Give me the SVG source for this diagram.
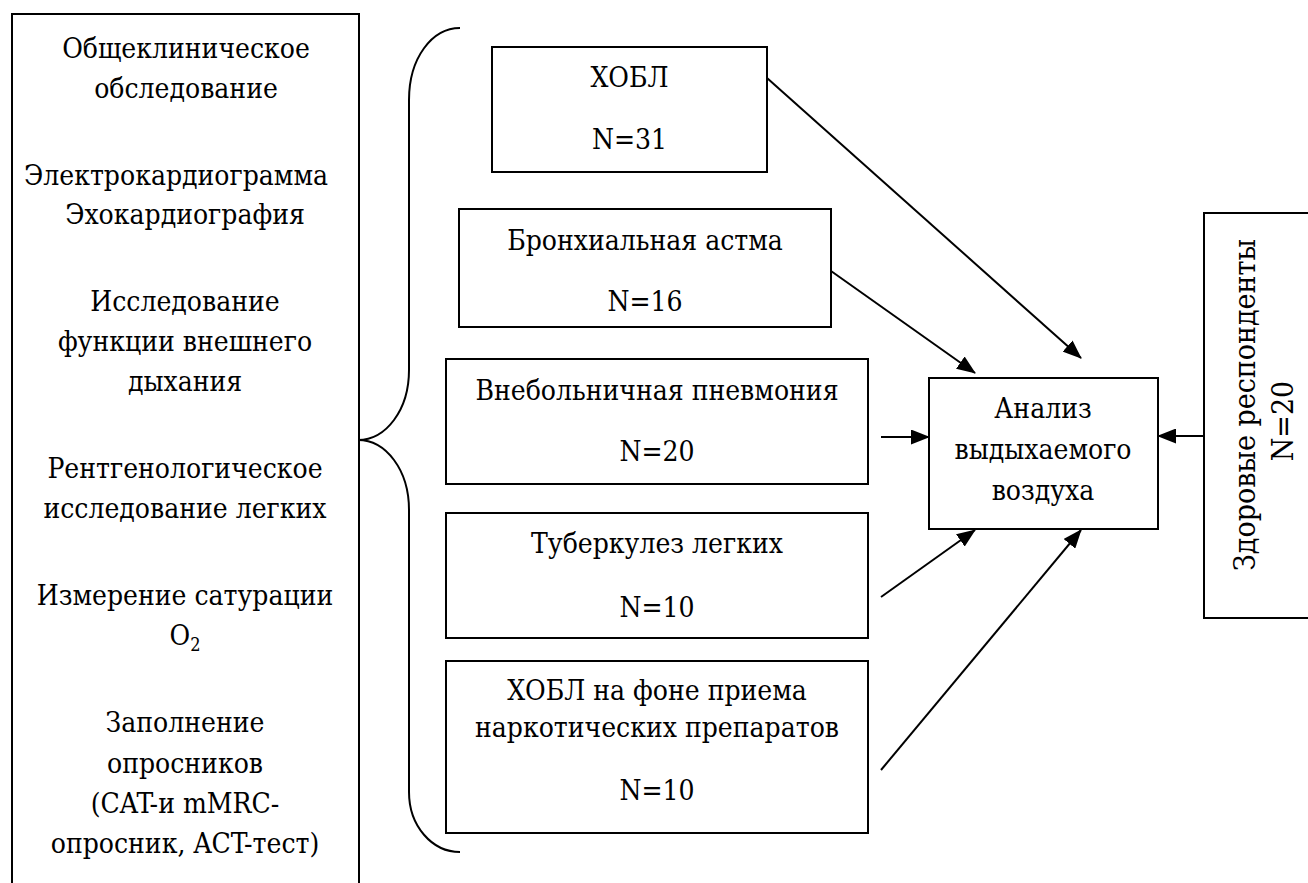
<svg xmlns="http://www.w3.org/2000/svg" width="1308" height="883" viewBox="0 0 1308 883">
<defs>
<marker id="ah" markerUnits="userSpaceOnUse" markerWidth="19" markerHeight="15" refX="18" refY="7.5" orient="auto">
<path d="M0,0 L19,7.5 L0,15 Z" fill="#000"/>
</marker>
<style>
.t{font-family:"DejaVu Serif Condensed","DejaVu Serif","Liberation Serif",serif;font-stretch:condensed;font-size:28px;fill:#000;text-anchor:middle}
.v{font-size:30px}
.b{fill:#fff;stroke:#000;stroke-width:2}
.c{fill:none;stroke:#000;stroke-width:2}
.a{fill:none;stroke:#000;stroke-width:2;marker-end:url(#ah)}
</style>
</defs>
<rect width="1308" height="883" fill="#fff"/>
<g id="methods">
<path class="c" d="M12,883 V14 H359 V883"/>
<text class="t" x="186" y="58">Общеклиническое</text>
<text class="t" x="186" y="98">обследование</text>
<text class="t" x="176" y="185">Электрокардиограмма</text>
<text class="t" x="185" y="224">Эхокардиография</text>
<text class="t" x="185" y="311">Исследование</text>
<text class="t" x="185" y="351">функции внешнего</text>
<text class="t" x="185" y="391">дыхания</text>
<text class="t" x="185" y="478">Рентгенологическое</text>
<text class="t" x="185" y="518">исследование легких</text>
<text class="t" x="185" y="605">Измерение сатурации</text>
<text class="t" x="185" y="645">O<tspan font-size="18" dy="6">2</tspan></text>
<text class="t" x="185" y="732">Заполнение</text>
<text class="t" x="185" y="773">опросников</text>
<text class="t" x="185" y="813">(CAT-и mMRC-</text>
<text class="t" x="185" y="853">опросник, ACT-тест)</text>
</g>
<g id="brace">
<path class="c" d="M460,28 C432,28 409,58 409,100 L409,370 C409,410 386,440 358,440 C386,440 409,470 409,510 L409,792 C409,826 432,852 460,852"/>
</g>
<g id="copd">
<rect class="b" x="492" y="47" width="275" height="125"/>
<text class="t" x="629.5" y="87">ХОБЛ</text>
<text class="t" x="629.5" y="149">N=31</text>
</g>
<g id="asthma">
<rect class="b" x="459" y="209" width="372" height="118"/>
<text class="t" x="645" y="250">Бронхиальная астма</text>
<text class="t" x="645" y="311">N=16</text>
</g>
<g id="pneumonia">
<rect class="b" x="446" y="359" width="422" height="125"/>
<text class="t" x="657" y="400">Внебольничная пневмония</text>
<text class="t" x="657" y="461">N=20</text>
</g>
<g id="tuberculosis">
<rect class="b" x="446" y="513" width="422" height="125"/>
<text class="t" x="657" y="553">Туберкулез легких</text>
<text class="t" x="657" y="617">N=10</text>
</g>
<g id="copd-drugs">
<rect class="b" x="446" y="661" width="422" height="172"/>
<text class="t" x="657" y="700">ХОБЛ на фоне приема</text>
<text class="t" x="657" y="737">наркотических препаратов</text>
<text class="t" x="657" y="800">N=10</text>
</g>
<g id="analysis">
<rect class="b" x="929" y="378" width="229" height="151"/>
<text class="t" x="1043" y="418">Анализ</text>
<text class="t" x="1043" y="459">выдыхаемого</text>
<text class="t" x="1043" y="500">воздуха</text>
</g>
<g id="healthy">
<path class="b" d="M1310,213 H1204 V618 H1310"/>
<text class="t v" transform="translate(1255,405) rotate(-90)">Здоровые респонденты</text>
<text class="t v" transform="translate(1293,421) rotate(-90)">N=20</text>
</g>
<g id="connectors">
<line class="a" x1="767" y1="78" x2="1081" y2="358"/>
<line class="a" x1="831" y1="271" x2="975" y2="373"/>
<line class="a" x1="881" y1="437" x2="929" y2="437"/>
<line class="a" x1="881" y1="597" x2="975" y2="530"/>
<line class="a" x1="881" y1="770" x2="1081" y2="530"/>
<line class="a" x1="1204" y1="436" x2="1158" y2="436"/>
</g>
</svg>
